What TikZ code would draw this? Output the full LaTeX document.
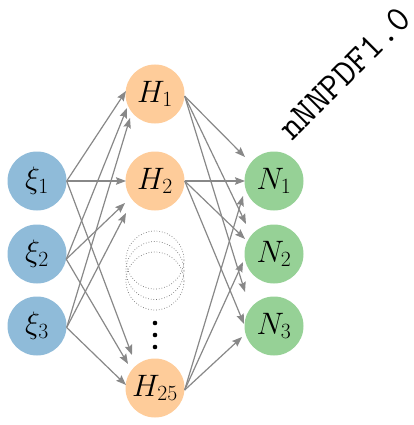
\documentclass[tikz,border=0pt]{standalone}
\usepackage{fix-cm}
\usetikzlibrary{arrows.meta,calc}
\definecolor{cblue}{RGB}{143,187,217}
\definecolor{corange}{RGB}{254,204,154}
\definecolor{cgreen}{RGB}{150,209,150}
\definecolor{cgray}{RGB}{136,136,136}
\begin{document}
\begin{tikzpicture}[x=1pt,y=-1pt,
  neuron/.style={circle,minimum size=59pt,inner sep=0pt,font=\fontsize{31}{36}\selectfont},
  inp/.style={neuron,fill=cblue},
  hid/.style={neuron,fill=corange},
  outp/.style={neuron,fill=cgreen},
  conn/.style={draw=cgray,line width=1.2pt,-{Stealth[length=10pt,width=7.5pt,inset=1.5pt]}},
  ghost/.style={circle,minimum size=58pt,inner sep=0pt,draw=black!55,dotted,line width=0.7pt},
  vdot/.style={fill=black}]
\useasboundingbox (0,0) rectangle (414,425);
% ghost hidden neurons
\node[ghost] (g1) at (155,260) {};
\node[ghost] (g2) at (155,270.5) {};
\node[ghost] (g3) at (155,281) {};
\fill[vdot] (155,323) circle (2.3);
\fill[vdot] (155,335) circle (2.3);
\fill[vdot] (155,347) circle (2.3);
% neurons
\node[inp] (x1) at (37,181) {$\xi_1$};
\node[inp] (x2) at (37,254) {$\xi_2$};
\node[inp] (x3) at (37,326) {$\xi_3$};
\node[hid] (h1) at (155,94) {$H_1$};
\node[hid] (h2) at (155,181) {$H_2$};
\node[hid] (h25) at (155,388) {$H_{25}$};
\node[outp] (n1) at (274,181) {$N_1$};
\node[outp] (n2) at (274,254) {$N_2$};
\node[outp] (n3) at (274,326) {$N_3$};
% input -> hidden
\draw[conn] (x1.east) -- ($(h1)+(-29,-3)$);
\draw[conn] (x2.-10) -- ($(h1)+(-28,14)$);
\draw[conn] (x3.-3) -- ($(h1)+(-25,24)$);
\draw[conn] (x1.east) -- ($(h2)+(-29,0)$);
\draw[conn] (x2.-10) -- ($(h2)+(-30,22)$);
\draw[conn] (x3.-3) -- ($(h2)+(-29,32)$);
\draw[conn] (x1.east) -- ($(h25)+(-23,-33)$);
\draw[conn] (x2.-10) -- ($(h25)+(-27,-24)$);
\draw[conn] (x3.-3) -- ($(h25)+(-29,-3)$);
% hidden -> output
\draw[conn] (h1.-4) -- ($(n1)+(-29,-24)$);
\draw[conn] (h1.-4) -- ($(n2)+(-28,-30)$);
\draw[conn] (h1.-4) -- ($(n3)+(-29,-34)$);
\draw[conn] (h2.east) -- ($(n1)+(-29,0)$);
\draw[conn] (h2.east) -- ($(n2)+(-29,-15)$);
\draw[conn] (h2.east) -- ($(n3)+(-30,-2)$);
\draw[conn] (h25.-4) -- ($(n1)+(-31,15)$);
\draw[conn] (h25.-4) -- ($(n2)+(-31,8)$);
\draw[conn] (h25.-4) -- ($(n3)+(-32,11)$);
% title
\node[anchor=base west,rotate=45,inner sep=0pt,font=\fontsize{37}{40}\selectfont\ttfamily] (title) at (292,142) {nNNPDF1.0};
\end{tikzpicture}
\end{document}
